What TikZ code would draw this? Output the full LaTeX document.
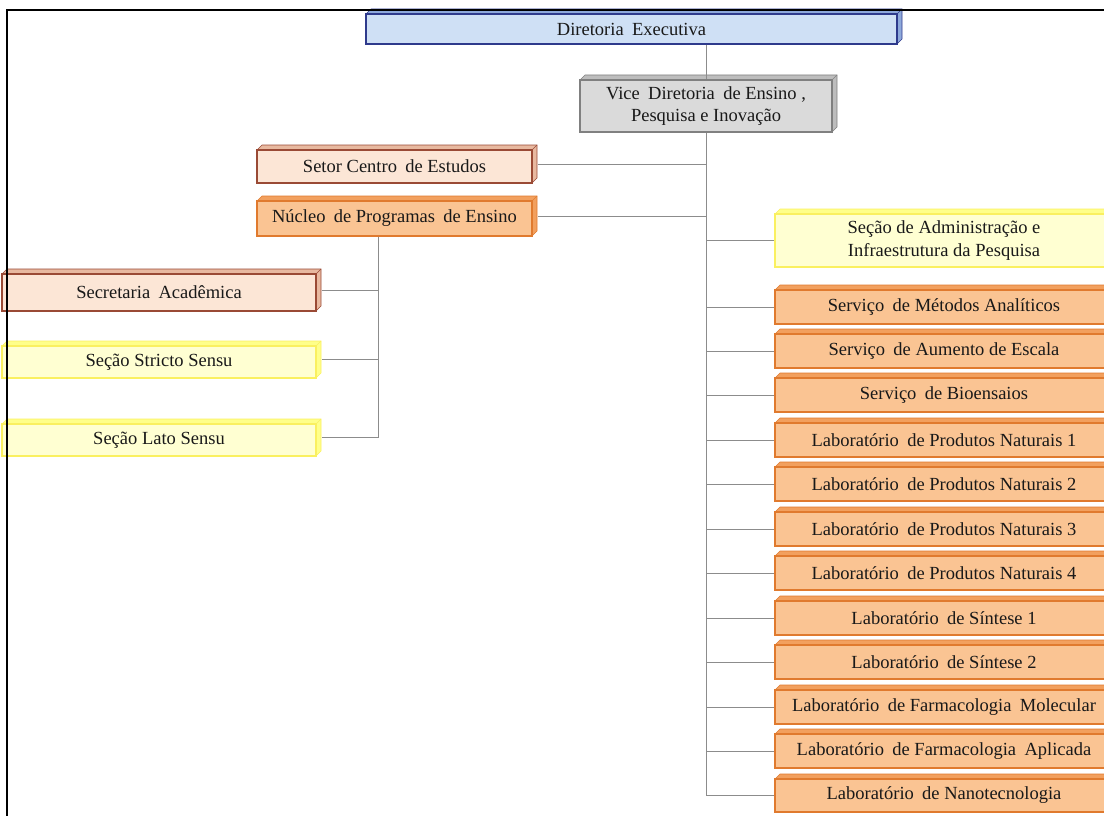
\documentclass[tikz,border=0pt]{standalone}
\usepackage{fontspec}
\setmainfont{Liberation Serif}
\definecolor{bluefill}{HTML}{CFE0F5}
\definecolor{blueside}{HTML}{8EA9DB}
\definecolor{blueline}{HTML}{2E3A8C}
\definecolor{grayfill}{HTML}{DADADA}
\definecolor{grayside}{HTML}{BDBDBD}
\definecolor{grayline}{HTML}{808080}
\definecolor{peachfill}{HTML}{FCE6D6}
\definecolor{peachside}{HTML}{E8B9A0}
\definecolor{peachline}{HTML}{9A4A35}
\definecolor{orangefill}{HTML}{FAC493}
\definecolor{orangeside}{HTML}{F2A05E}
\definecolor{orangeline}{HTML}{E07A2E}
\definecolor{yellowfill}{HTML}{FFFFD2}
\definecolor{yellowside}{HTML}{FFFF8A}
\definecolor{yellowline}{HTML}{FAF060}
\begin{document}
% Organisation chart: boxes are drawn with a small 3D extrusion on top and right
\tikzset{
  orgbox/.style={draw, line width=1.2pt, inner sep=0pt, align=center,
    font=\fontsize{18.5}{22.5}\selectfont, text=black!90},
  bluebox/.style={orgbox, fill=bluefill, draw=blueline},
  graybox/.style={orgbox, fill=grayfill, draw=grayline},
  peachbox/.style={orgbox, fill=peachfill, draw=peachline},
  orangebox/.style={orgbox, fill=orangefill, draw=orangeline},
  yellowbox/.style={orgbox, fill=yellowfill, draw=yellowline},
  link/.style={draw=black!45, line width=1pt},
  frameline/.style={draw=black, line width=2pt}
}
% \orgnode{name}{kind}{x1}{y1}{x2}{y2}{text}; kind is blue, gray, peach, orange or yellow
\newcommand{\orgnode}[7]{%
  \fill[#2side] (#3,#4) -- ++(5,-5) -- (#5+5,#4-5) -- (#5,#4) -- cycle;
  \fill[#2side] (#5,#4) -- (#5+5,#4-5) -- (#5+5,#6-5) -- (#5,#6) -- cycle;
  \draw[#2line, line width=0.6pt] (#3,#4) -- ++(5,-5) -- (#5+5,#4-5) -- (#5+5,#6-5) -- (#5,#6);
  \draw[#2line, line width=0.6pt] (#5,#4) -- (#5+5,#4-5);
  \node[#2box, minimum width=#5-#3, minimum height=#6-#4] (#1) at ({(#3+#5)/2},{(#4+#6)/2}) {#7};
}
\newcommand{\gap}{\hspace{0.45em}}
\begin{tikzpicture}[x=1pt, y=-1pt]
\useasboundingbox (0,0) rectangle (1104,816);
\clip (0,0) rectangle (1104,816);

% top level
\orgnode{dir}{blue}{366}{14}{897}{44}{Diretoria\gap Executiva}
\orgnode{vice}{gray}{580}{80}{832}{132}{Vice\gap Diretoria\gap de Ensino ,\\Pesquisa e Inovação}

% left side
\orgnode{setor}{peach}{257}{150}{532}{183}{Setor Centro\gap de Estudos}
\orgnode{nucleo}{orange}{257}{201}{532}{236}{Núcleo\gap de Programas\gap de Ensino}
\orgnode{secac}{peach}{2}{274}{316}{311}{Secretaria\gap Acadêmica}
\orgnode{stricto}{yellow}{2}{346}{316}{378}{Seção Stricto Sensu}
\orgnode{lato}{yellow}{2}{424}{316}{456}{Seção Lato Sensu}

% right side
\orgnode{adm}{yellow}{775}{214}{1113}{267}{Seção de Administração e\\Infraestrutura da Pesquisa}
\orgnode{metodos}{orange}{775}{290}{1113}{324}{Serviço\gap de Métodos Analíticos}
\orgnode{escala}{orange}{775}{334}{1113}{368}{Serviço\gap de Aumento de Escala}
\orgnode{bio}{orange}{775}{378}{1113}{412}{Serviço\gap de Bioensaios}
\orgnode{pn1}{orange}{775}{423}{1113}{457}{Laboratório\gap de Produtos Naturais 1}
\orgnode{pn2}{orange}{775}{467}{1113}{501}{Laboratório\gap de Produtos Naturais 2}
\orgnode{pn3}{orange}{775}{512}{1113}{546}{Laboratório\gap de Produtos Naturais 3}
\orgnode{pn4}{orange}{775}{556}{1113}{590}{Laboratório\gap de Produtos Naturais 4}
\orgnode{sin1}{orange}{775}{601}{1113}{635}{Laboratório\gap de Síntese 1}
\orgnode{sin2}{orange}{775}{645}{1113}{679}{Laboratório\gap de Síntese 2}
\orgnode{fmol}{orange}{775}{690}{1113}{724}{Laboratório\gap de Farmacologia\gap Molecular}
\orgnode{fapl}{orange}{775}{734}{1113}{768}{Laboratório\gap de Farmacologia\gap Aplicada}
\orgnode{nano}{orange}{775}{779}{1113}{812}{Laboratório\gap de Nanotecnologia}

% connectors
\draw[link] (vice.north |- dir.south) -- (vice.north);
\foreach \n in {setor,nucleo}
  \draw[link] (vice.south) |- ([xshift=5pt,yshift=2.5pt]\n.east);
\foreach \n in {adm,metodos,escala,bio,pn1,pn2,pn3,pn4,sin1,sin2,fmol,fapl,nano}
  \draw[link] (vice.south) |- (\n.west);
\foreach \n in {secac,stricto,lato}
  \draw[link] ([xshift=-16pt]nucleo.south) |- ([xshift=5pt,yshift=2.5pt]\n.east);

% outer frame
\draw[frameline] (7,817) -- (7,10) -- (1105,10);
\end{tikzpicture}
\end{document}
